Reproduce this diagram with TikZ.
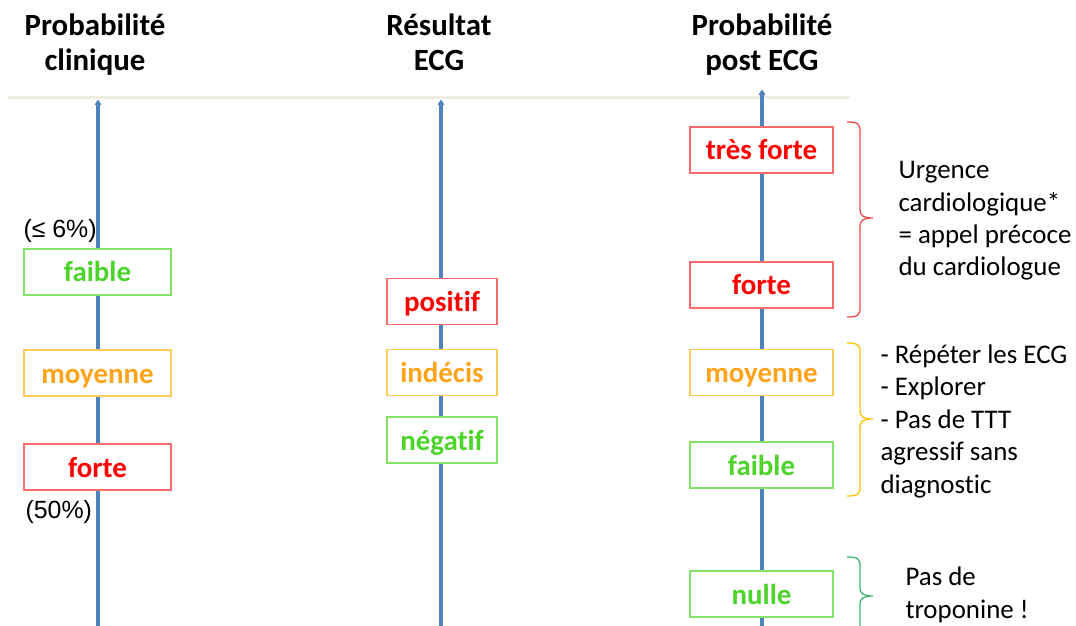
\documentclass[tikz,border=0pt]{standalone}
\usepackage{fontspec}
\setmainfont{Carlito}[Ligatures=NoCommon]
\newfontfamily\arialf{Liberation Sans}
\usetikzlibrary{arrows.meta}

\definecolor{axisblue}{HTML}{4F81BD}
\definecolor{rulecol}{HTML}{EEECE1}
\definecolor{redtxt}{HTML}{FF0000}
\definecolor{redbox}{HTML}{FF6B6B}
\definecolor{greentxt}{HTML}{4CD42A}
\definecolor{greenbox}{HTML}{84E266}
\definecolor{orangetxt}{HTML}{FFA31A}
\definecolor{orangebox}{HTML}{FFCA5A}
\definecolor{bracered}{HTML}{E84A4A}
\definecolor{braceyellow}{HTML}{FFC000}
\definecolor{bracegreen}{HTML}{3DB36B}

% curly brace: colour, x of the ends, top, tip, bottom
\newcommand\cbrace[5]{%
  \draw[bracestyle,#1]
    (#2,#3) .. controls (#2+11,#3) and (#2+13,#3+2) .. (#2+13,#3+9)
    -- (#2+13,#4-8) .. controls (#2+13,#4-2) and (#2+17,#4) .. (#2+26,#4)
    .. controls (#2+17,#4) and (#2+13,#4+2) .. (#2+13,#4+8)
    -- (#2+13,#5-9) .. controls (#2+13,#5-2) and (#2+11,#5) .. (#2,#5);}

\begin{document}
\begin{tikzpicture}[x=1bp,y=-1bp,
  title/.style={align=center,anchor=base,font=\fontsize{31}{36}\selectfont\bfseries},
  axis/.style={draw=axisblue,line width=3.2bp,-{Triangle[round,length=6bp,width=7bp]}},
  level/.style={draw,fill=white,line width=1.3bp,minimum height=46bp,inner sep=0pt,
    text height=22bp,text depth=2bp,
    font=\fontsize{29}{30}\selectfont\bfseries},
  hi/.style={level,draw=redbox,text=redtxt},
  mid/.style={level,draw=orangebox,text=orangetxt},
  lo/.style={level,draw=greenbox,text=greentxt},
  colA/.style={minimum width=147bp},
  colB/.style={minimum width=110bp},
  colC/.style={minimum width=143bp},
  note/.style={align=left,anchor=base west,font=\fontsize{27}{32.6}\selectfont},
  pct/.style={anchor=base west,font=\arialf\fontsize{25}{28}\selectfont},
  bracestyle/.style={line width=1.3bp}]
\useasboundingbox (0,0) rectangle (1076,626);

% column titles (anchored on the baseline of their last line)
\node[title] (t1) at (95,71) {Probabilité\\clinique};
\node[title] (t2) at (439,71) {Résultat\\ECG};
\node[title] (t3) at (762,71) {Probabilité\\post ECG};

% header rule
\coordinate (r0) at (8,98);
\coordinate (r1) at (850,98);
\draw[rulecol,line width=3bp] (r0) -- (r1);

% axes
\coordinate (a1) at (98,640);  \coordinate (b1) at (98,100);
\coordinate (a2) at (441,640); \coordinate (b2) at (441,100);
\coordinate (a3) at (762,640); \coordinate (b3) at (762,90);
\draw[axis] (a1) -- (b1);
\draw[axis] (a2) -- (b2);
\draw[axis] (a3) -- (b3);

% clinical probability
\node[lo,colA]  (c1) at (97.5,272) {faible};
\node[mid,colA] (c2) at (97.5,373) {moyenne};
\node[hi,colA]  (c3) at (97.5,467) {forte};
\node[pct] (p1) at (20,238) {(≤ 6\%)};
\node[pct] (p2) at (22,518) {(50\%)};

% ECG result
\node[hi,colB]  (e1) at (442,301.5) {positif};
\node[mid,colB] (e2) at (442,372.5) {indécis};
\node[lo,colB]  (e3) at (442,440) {négatif};

% post-ECG probability
\node[hi,colC]  (d1) at (761.5,150) {très forte};
\node[hi,colC]  (d2) at (761.5,285) {forte};
\node[mid,colC] (d3) at (761.5,372.5) {moyenne};
\node[lo,colC]  (d4) at (761.5,465) {faible};
\node[lo,colC]  (d5) at (761.5,594) {nulle};

% braces and actions
\cbrace{bracered}{847}{122}{218}{317}
\cbrace{braceyellow}{847}{343}{419}{496}
\cbrace{bracegreen}{847}{557}{596}{640}

\node[note] (n1) at (895,276) {Urgence\\cardiologique*\\= appel précoce\\du cardiologue};
\node[note] (n2) at (877,493) {- Répéter les ECG\\- Explorer\\- Pas de TTT\\agressif sans\\diagnostic};
\node[note] (n3) at (902,618) {Pas de\\troponine !};
\end{tikzpicture}
\end{document}
